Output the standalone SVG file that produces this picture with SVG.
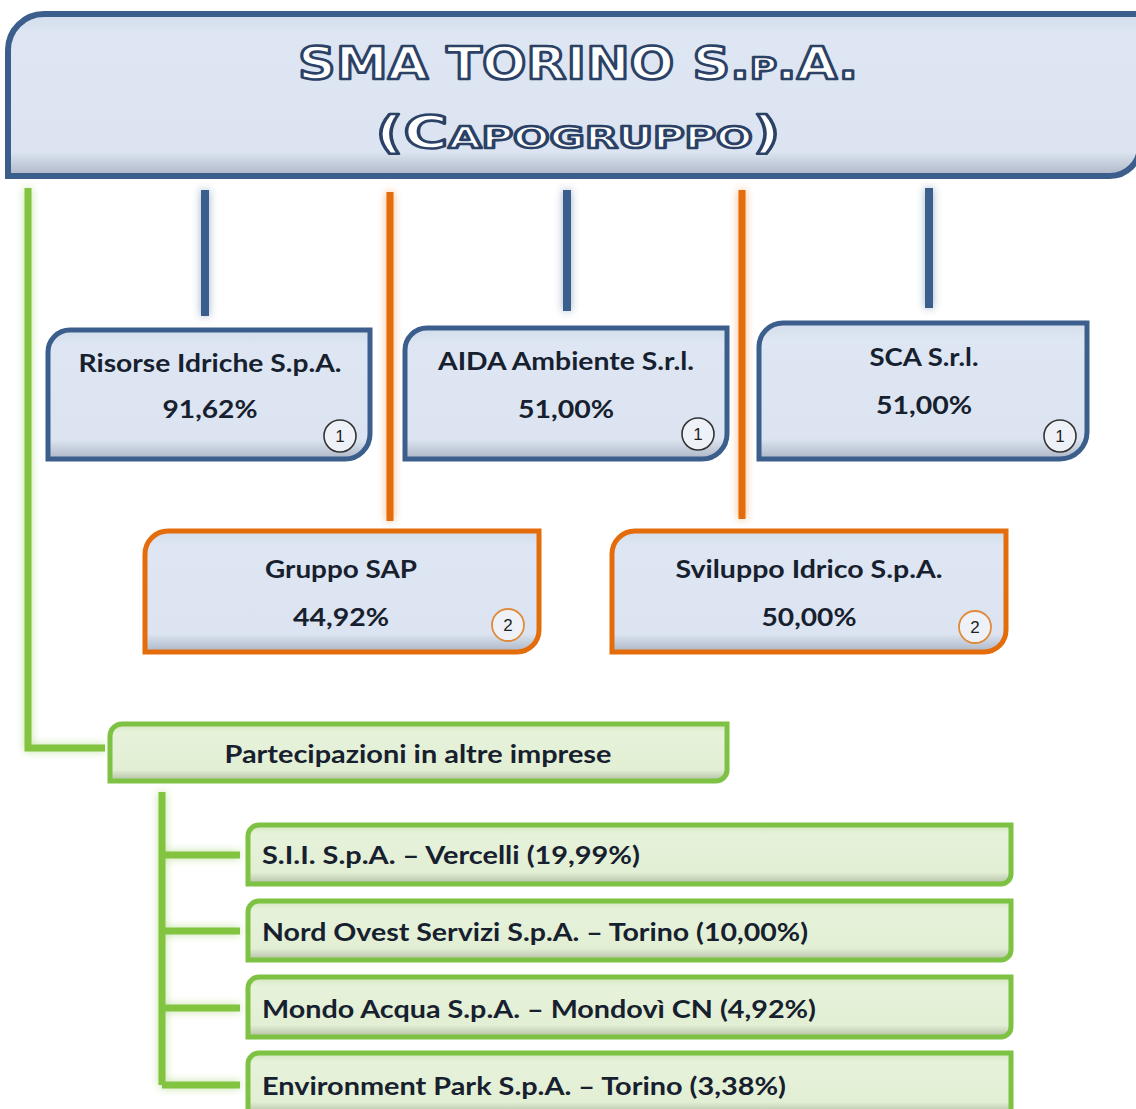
<svg xmlns="http://www.w3.org/2000/svg" width="1136" height="1109" viewBox="0 0 1136 1109">
<defs>
<style>
.bx{stroke:#3b5e8c;stroke-width:5;fill:url(#gBlue)}
.ob{stroke:#e46c0a;stroke-width:5;fill:url(#gBlue)}
.gb{stroke:#7dc242;stroke-width:5;fill:url(#gGreen)}
.t{font-family:Lato,"Open Sans","Liberation Sans",sans-serif;font-weight:700;font-size:25px;fill:#17202e}
.tc{text-anchor:middle}
.num{font-family:"Liberation Sans",Arial,sans-serif;font-size:17px;fill:#222;text-anchor:middle}
.cb{fill:#eef2f8;stroke:#333;stroke-width:1.6}
.co{fill:#eef2f8;stroke:#e08a3a;stroke-width:1.8}
.lb{stroke:#3b5e8c;stroke-width:8;fill:none}
.lo{stroke:#e46c0a;stroke-width:7;fill:none}
.lg{stroke:#82c341;stroke-width:7;fill:none}
.title{font-family:"DejaVu Sans","Liberation Sans",sans-serif;font-weight:700;font-variant:small-caps;font-size:44px;fill:#ffffff;stroke:#2b4166;stroke-width:2.6;stroke-linejoin:round;text-anchor:middle}
</style>
<linearGradient id="gBlue" x1="0" y1="0" x2="0" y2="1">
<stop offset="0" stop-color="#d3deec"/>
<stop offset="0.12" stop-color="#dde6f2"/>
<stop offset="0.85" stop-color="#dbe4f0"/>
<stop offset="1" stop-color="#aeb6c6"/>
</linearGradient>
<linearGradient id="gGreen" x1="0" y1="0" x2="0" y2="1">
<stop offset="0" stop-color="#d4e6c0"/>
<stop offset="0.15" stop-color="#e6f2da"/>
<stop offset="0.8" stop-color="#e2efd4"/>
<stop offset="1" stop-color="#b3bfa5"/>
</linearGradient>
<filter id="glow" x="-50%" y="-10%" width="200%" height="120%">
<feGaussianBlur in="SourceGraphic" stdDeviation="4" result="b"/>
<feComponentTransfer in="b" result="b2"><feFuncA type="linear" slope="0.5"/></feComponentTransfer>
<feMerge><feMergeNode in="b2"/><feMergeNode in="SourceGraphic"/></feMerge>
</filter>
</defs>
<rect width="1136" height="1109" fill="#ffffff"/>

<g id="connectors">
<g filter="url(#glow)">
<path class="lg" d="M28 188 V748 H105"/>
<path class="lg" d="M162 792 V1085"/>
<path class="lg" d="M162 855 H240 M162 931 H240 M162 1008 H240 M162 1085 H240"/>
</g>
<g filter="url(#glow)">
<path class="lb" d="M205 190 V316 M567 190 V311 M929 188 V308"/>
<path class="lo" d="M390 192 V521 M742 190 V519"/>
</g>
</g>

<g id="capogruppo">
<path d="M8 176 V50 A36 36 0 0 1 44 14 H1140 V146 A30 30 0 0 1 1110 176 Z" fill="url(#gBlue)" stroke="#3b5e8c" stroke-width="6"/>
<text class="title" x="578" y="79" textLength="560" lengthAdjust="spacingAndGlyphs">SMA TORINO S.p.A.</text>
<text class="title" x="578" y="148" textLength="405" lengthAdjust="spacingAndGlyphs">(Capogruppo)</text>
</g>

<g id="risorse-idriche">
<path class="bx" d="M48 459 V352 A22 22 0 0 1 70 330 H370 V434 A25 25 0 0 1 345 459 Z"/>
<text class="t tc" x="210" y="372" textLength="263" lengthAdjust="spacingAndGlyphs">Risorse Idriche S.p.A.</text>
<text class="t tc" x="210" y="418" textLength="95" lengthAdjust="spacingAndGlyphs">91,62%</text>
<circle class="cb" cx="340" cy="436" r="16"/>
<text class="num" x="340" y="442">1</text>
</g>

<g id="aida-ambiente">
<path class="bx" d="M405 459 V350 A22 22 0 0 1 427 328 H727 V434 A25 25 0 0 1 702 459 Z"/>
<text class="t tc" x="566" y="370" textLength="256" lengthAdjust="spacingAndGlyphs">AIDA Ambiente S.r.l.</text>
<text class="t tc" x="566" y="418" textLength="96" lengthAdjust="spacingAndGlyphs">51,00%</text>
<circle class="cb" cx="698" cy="434" r="16"/>
<text class="num" x="698" y="440">1</text>
</g>

<g id="sca">
<path class="bx" d="M759 459 V347 A24 24 0 0 1 783 323 H1087 V432 A27 27 0 0 1 1060 459 Z"/>
<text class="t tc" x="924" y="366" textLength="109" lengthAdjust="spacingAndGlyphs">SCA S.r.l.</text>
<text class="t tc" x="924" y="414" textLength="96" lengthAdjust="spacingAndGlyphs">51,00%</text>
<circle class="cb" cx="1060" cy="436" r="16"/>
<text class="num" x="1060" y="442">1</text>
</g>

<g id="gruppo-sap">
<path class="ob" d="M145 652 V554 A23 23 0 0 1 168 531 H539 V630 A22 22 0 0 1 517 652 Z"/>
<text class="t tc" x="341" y="578" textLength="152" lengthAdjust="spacingAndGlyphs">Gruppo SAP</text>
<text class="t tc" x="341" y="626" textLength="96" lengthAdjust="spacingAndGlyphs">44,92%</text>
<circle class="co" cx="508" cy="625" r="16"/>
<text class="num" x="508" y="631">2</text>
</g>

<g id="sviluppo-idrico">
<path class="ob" d="M612 652 V554 A23 23 0 0 1 635 531 H1006 V630 A22 22 0 0 1 984 652 Z"/>
<text class="t tc" x="809" y="578" textLength="267" lengthAdjust="spacingAndGlyphs">Sviluppo Idrico S.p.A.</text>
<text class="t tc" x="809" y="626" textLength="95" lengthAdjust="spacingAndGlyphs">50,00%</text>
<circle class="co" cx="975" cy="627" r="16"/>
<text class="num" x="975" y="633">2</text>
</g>

<g id="partecipazioni">
<path class="gb" d="M110 781 V736 A12 12 0 0 1 122 724 H727 V770 A11 11 0 0 1 716 781 Z"/>
<text class="t tc" x="418" y="763" textLength="387" lengthAdjust="spacingAndGlyphs">Partecipazioni in altre imprese</text>
</g>

<g id="sii">
<path class="gb" d="M248 884 V836 A11 11 0 0 1 259 825 H1011 V874 A10 10 0 0 1 1001 884 Z"/>
<text class="t" x="262" y="864" textLength="378" lengthAdjust="spacingAndGlyphs">S.I.I. S.p.A. – Vercelli (19,99%)</text>
</g>

<g id="nord-ovest">
<path class="gb" d="M248 960 V912 A11 11 0 0 1 259 901 H1011 V950 A10 10 0 0 1 1001 960 Z"/>
<text class="t" x="262" y="941" textLength="546" lengthAdjust="spacingAndGlyphs">Nord Ovest Servizi S.p.A. – Torino (10,00%)</text>
</g>

<g id="mondo-acqua">
<path class="gb" d="M248 1037 V988 A11 11 0 0 1 259 977 H1011 V1027 A10 10 0 0 1 1001 1037 Z"/>
<text class="t" x="262" y="1018" textLength="554" lengthAdjust="spacingAndGlyphs">Mondo Acqua S.p.A. – Mondovì CN (4,92%)</text>
</g>

<g id="environment-park">
<path class="gb" d="M248 1114 V1064 A11 11 0 0 1 259 1053 H1011 V1114 Z"/>
<text class="t" x="262" y="1095" textLength="524" lengthAdjust="spacingAndGlyphs">Environment Park S.p.A. – Torino (3,38%)</text>
</g>
</svg>
